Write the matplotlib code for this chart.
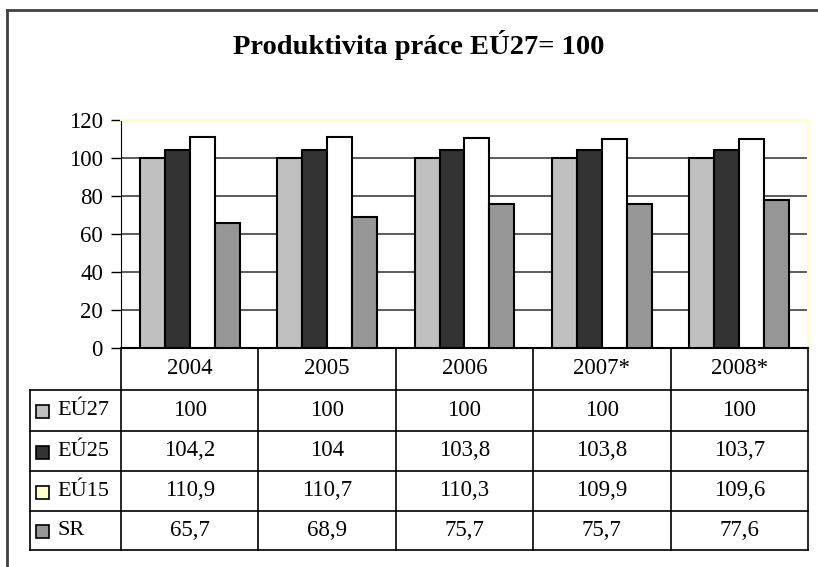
import matplotlib.pyplot as plt
from matplotlib.lines import Line2D
from matplotlib.patches import Rectangle

years = ["2004", "2005", "2006", "2007*", "2008*"]
series = ["EÚ27", "EÚ25", "EÚ15", "SR"]
eu27 = [100, 100, 100, 100, 100]
eu25 = [104.2, 104, 103.8, 103.8, 103.7]
eu15 = [110.9, 110.7, 110.3, 109.9, 109.6]
sr = [65.7, 68.9, 75.7, 75.7, 77.6]
yticks = [0, 20, 40, 60, 80, 100, 120]

values = [eu27, eu25, eu15, sr]
bar_colors = ["#C0C0C0", "#333333", "#FFFFFF", "#969696"]
key_colors = ["#C0C0C0", "#333333", "#FFFFCC", "#969696"]

plt.rcParams["font.family"] = ["Liberation Serif", "DejaVu Serif"]

W, H = 818, 567
fig = plt.figure(figsize=(W / 100, H / 100), dpi=100)

# pixel layout
px_left, px_right = 121, 808
px_top, px_zero = 119.5, 347.5
px_tab_left = 30
row_edges = [347.5, 390, 431, 471, 511, 550]


def fx(x):
    return x / W


def fy(y):
    return 1 - y / H


ax = fig.add_axes([fx(px_left), fy(px_zero), fx(px_right - px_left), (px_zero - px_top) / H])

n = len(years)
w = 1 / 5.5
for j, (vals, col) in enumerate(zip(values, bar_colors)):
    xs = [i + (j - 1.5) * w for i in range(n)]
    ax.bar(xs, vals, width=w, color=col, edgecolor="black", linewidth=1.5, zorder=3)

ax.set_xlim(-0.5, n - 0.5)
ax.set_ylim(0, 120)
ax.set_yticks(yticks)
ax.set_yticklabels([str(t) for t in yticks], fontsize=16.5)
ax.set_xticks([])
ax.yaxis.grid(True, color="#404040", linewidth=1.2, zorder=0)
ax.tick_params(axis="y", length=7, width=1, color="black", pad=6)
for s in ["top", "right"]:
    ax.spines[s].set_color("#FFFFC0")
    ax.spines[s].set_linewidth(1.5)
ax.spines["left"].set_color("black")
ax.spines["bottom"].set_color("black")
ax.spines["bottom"].set_linewidth(1.5)

# data table under the chart
tax = fig.add_axes([fx(px_tab_left), fy(row_edges[-1]), fx(px_right - px_tab_left), (row_edges[-1] - row_edges[0]) / H])
x_left = -0.5 - (px_left - px_tab_left) / ((px_right - px_left) / n)
tax.set_xlim(x_left, n - 0.5)
tax.set_ylim(row_edges[-1], row_edges[0])
tax.axis("off")

lc = "black"
# horizontal lines
for y in row_edges[1:]:
    tax.plot([x_left, n - 0.5], [y, y], color=lc, lw=1.2, clip_on=False)
# vertical lines
for i in range(n + 1):
    tax.plot([i - 0.5, i - 0.5], [row_edges[0], row_edges[-1]], color=lc, lw=1.2, clip_on=False)
tax.plot([x_left, x_left], [row_edges[1], row_edges[-1]], color=lc, lw=1.2, clip_on=False)

for i, yr in enumerate(years):
    tax.text(i, (row_edges[0] + row_edges[1]) / 2, yr, ha="center", va="center", fontsize=16.5)

for r, (name, vals) in enumerate(zip(series, values)):
    yc = (row_edges[r + 1] + row_edges[r + 2]) / 2
    for i, v in enumerate(vals):
        txt = f"{v:g}".replace(".", ",")
        tax.text(i, yc, txt, ha="center", va="center", fontsize=16.5)
    # legend key
    kx = x_left + 6 / 137.4
    ks = 13
    tax.add_patch(Rectangle((kx, yc - ks / 2 + 1), ks / 137.4, ks, facecolor=key_colors[r],
                            edgecolor="black", lw=1.2, clip_on=False))
    tax.text(x_left + 27 / 137.4, yc, name, ha="left", va="center", fontsize=16)

fig.text(fx(419), fy(45), "Produktivita práce EÚ27= 100", ha="center", va="center",
         fontsize=20.5, fontweight="bold")

# outer chart frame
fig.add_artist(Line2D([fx(7), 1], [fy(10), fy(10)], color="#404040", lw=2))
fig.add_artist(Line2D([fx(7), fx(7)], [fy(10), 0], color="#404040", lw=2))

plt.savefig("out.png", dpi=100)
